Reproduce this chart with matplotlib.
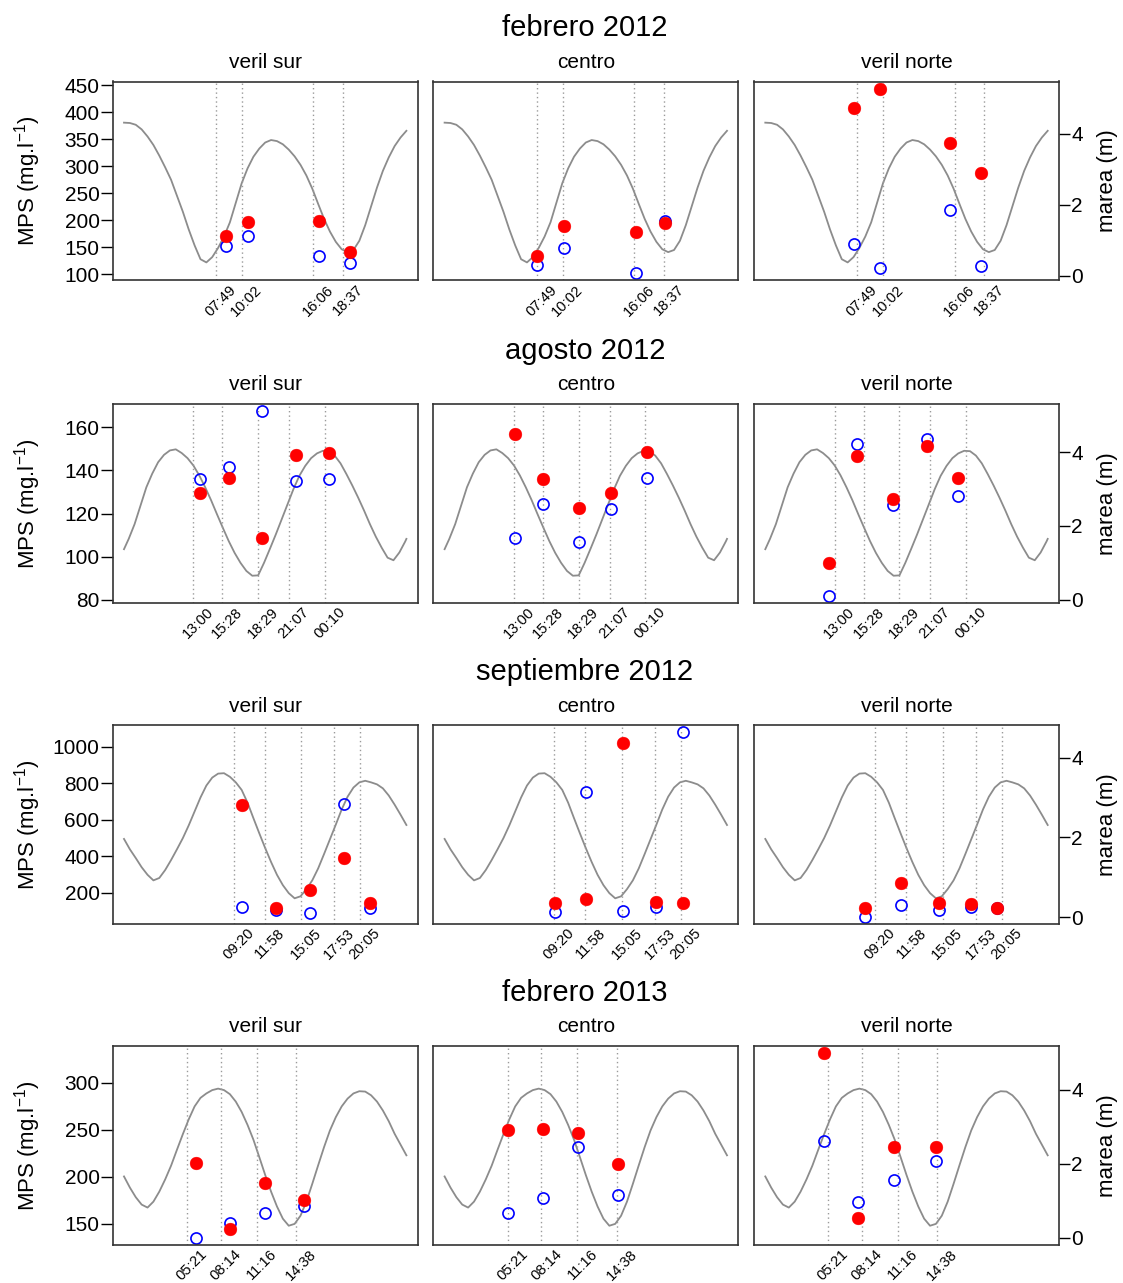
import matplotlib
matplotlib.use('Agg')
import matplotlib.pyplot as plt
from matplotlib import transforms

plt.rcParams['font.family'] = ['Liberation Sans', 'DejaVu Sans']
plt.rcParams['mathtext.default'] = 'regular'

stations = ["veril sur", "centro", "veril norte"]

# half-hourly tide readings (hours from midnight)
day_t = [0, 0.5, 1, 1.5, 2, 2.5, 3, 3.5, 4, 4.5, 5, 5.5, 6, 6.5, 7, 7.5, 8, 8.5, 9, 9.5, 10, 10.5, 11, 11.5,
         12, 12.5, 13, 13.5, 14, 14.5, 15, 15.5, 16, 16.5, 17, 17.5, 18, 18.5, 19, 19.5, 20, 20.5, 21, 21.5,
         22, 22.5, 23, 23.5, 24]

# ---- febrero 2012 ----
feb12_labels = ["07:49", "10:02", "16:06", "18:37"]
feb12_lines = [7.82, 10.03, 16.10, 18.62]
feb12_x = [[8.69, 10.53, 16.60, 19.22], [7.87, 10.14, 16.24, 18.77], [7.55, 9.74, 15.69, 18.34]]
feb12_red = [[171, 197, 198, 141], [133, 189, 179, 195], [408, 443, 343, 287]]
feb12_blue = [[152, 171, 133, 120], [117, 149, 102, 199], [155, 112, 219, 116]]
feb12_tide_t = day_t
feb12_tide_m = [4.31, 4.30, 4.25, 4.12, 3.92, 3.68, 3.38, 3.05, 2.70, 2.25, 1.80, 1.30, 0.85, 0.46, 0.37, 0.52,
                0.78, 1.10, 1.50, 2.05, 2.60, 3.02, 3.35, 3.58, 3.75, 3.82, 3.79, 3.70, 3.55, 3.36, 3.12, 2.82,
                2.45, 2.02, 1.60, 1.24, 0.95, 0.74, 0.66, 0.72, 0.98, 1.42, 1.95, 2.48, 2.95, 3.33, 3.65, 3.89,
                4.08]

# ---- agosto 2012 ----
ago12_labels = ["13:00", "15:28", "18:29", "21:07", "00:10"]
ago12_lines = [13.0, 15.47, 18.48, 21.12, 24.17]
ago12_x = [[13.54, 16.04, 18.83, 21.73, 24.49], [13.06, 15.47, 18.55, 21.23, 24.33], [12.51, 14.90, 17.92, 20.83, 23.47]]
ago12_red = [[129.4, 136.3, 108.9, 146.9, 148.1], [156.6, 136.0, 122.4, 129.5, 148.7], [97.3, 146.5, 126.9, 151.2, 136.5]]
ago12_blue = [[136.0, 141.7, 167.3, 135.2, 136.0], [108.9, 124.4, 106.9, 122.2, 136.5], [82.0, 152.4, 123.8, 154.3, 128.3]]
ago12_tide_t = [7.1, 7.5, 8, 8.5, 9, 9.5, 10, 10.5, 11, 11.5, 12, 12.5, 13, 13.5, 14, 14.5, 15, 15.5, 16, 16.5,
                17, 17.5, 18, 18.5, 19, 19.5, 20, 20.5, 21, 21.5, 22, 22.5, 23, 23.5, 24, 24.5, 25, 25.5, 26,
                26.5, 27, 27.5, 28, 28.5, 29, 29.5, 30, 30.5, 31, 31.1]
ago12_tide_m = [1.37, 1.65, 2.05, 2.55, 3.05, 3.42, 3.73, 3.93, 4.05, 4.08, 3.98, 3.84, 3.64, 3.37, 3.05, 2.70,
                2.32, 1.95, 1.59, 1.27, 1.00, 0.78, 0.65, 0.66, 1.00, 1.38, 1.77, 2.18, 2.59, 3.00, 3.36, 3.63,
                3.84, 3.97, 4.04, 4.03, 3.91, 3.70, 3.41, 3.10, 2.77, 2.42, 2.05, 1.71, 1.41, 1.14, 1.07, 1.28,
                1.58, 1.65]

# ---- septiembre 2012 ----
sep12_labels = ["09:20", "11:58", "15:05", "17:53", "20:05"]
sep12_lines = [9.33, 11.97, 15.08, 17.88, 20.08]
sep12_x = [[10.02, 12.93, 15.83, 18.73, 20.87], [9.35, 12.05, 15.15, 18.00, 20.22], [8.46, 11.57, 14.75, 17.49, 19.71]]
sep12_red = [[680, 114, 214, 392, 145], [145, 163, 1022, 151, 143], [118, 251, 141, 136, 118]]
sep12_blue = [[123, 103, 90, 684, 114], [94, 755, 98, 123, 1080], [68, 132, 105, 121, 116]]
sep12_tide_t = day_t
sep12_tide_m = [1.96, 1.70, 1.48, 1.25, 1.06, 0.92, 0.98, 1.18, 1.43, 1.70, 1.98, 2.30, 2.65, 3.00, 3.30, 3.50,
                3.60, 3.61, 3.52, 3.38, 3.19, 2.87, 2.48, 2.10, 1.73, 1.38, 1.06, 0.80, 0.60, 0.47, 0.52, 0.70,
                0.92, 1.22, 1.58, 1.95, 2.32, 2.70, 3.02, 3.25, 3.38, 3.42, 3.38, 3.33, 3.23, 3.05, 2.82, 2.57,
                2.31]

# ---- febrero 2013 ----
feb13_labels = ["05:21", "08:14", "11:16", "14:38"]
feb13_lines = [5.35, 8.23, 11.27, 14.63]
feb13_x = [[6.15, 9.00, 11.99, 15.26], [5.39, 8.35, 11.37, 14.75], [4.96, 7.86, 10.94, 14.50]]
feb13_red = [[214.6, 144.7, 193.4, 175.7], [249.9, 250.6, 246.4, 213.5], [331, 156, 231.2, 231.9]]
feb13_blue = [[135.2, 150.7, 161.3, 168.3], [161.6, 177.2, 231.2, 180.7], [238.2, 173, 196.9, 216.4]]
feb13_tide_t = day_t
feb13_tide_m = [1.66, 1.36, 1.10, 0.90, 0.82, 0.98, 1.25, 1.58, 1.95, 2.38, 2.80, 3.20, 3.55, 3.78, 3.90, 3.99,
                4.03, 3.99, 3.88, 3.68, 3.40, 3.05, 2.65, 2.18, 1.70, 1.25, 0.85, 0.52, 0.33, 0.38, 0.60, 0.98,
                1.46, 1.96, 2.45, 2.90, 3.26, 3.55, 3.76, 3.90, 3.96, 3.95, 3.85, 3.68, 3.44, 3.15, 2.81, 2.52,
                2.23]

rows = [
    dict(title="febrero 2012", labels=feb12_labels, lines=feb12_lines, x=feb12_x, red=feb12_red,
         blue=feb12_blue, tt=feb12_tide_t, tm=feb12_tide_m, yticks=range(100, 451, 50), mlim=(-0.14, 5.47)),
    dict(title="agosto 2012", labels=ago12_labels, lines=ago12_lines, x=ago12_x, red=ago12_red,
         blue=ago12_blue, tt=ago12_tide_t, tm=ago12_tide_m, yticks=range(80, 161, 20), mlim=(-0.09, 5.31)),
    dict(title="septiembre 2012", labels=sep12_labels, lines=sep12_lines, x=sep12_x, red=sep12_red,
         blue=sep12_blue, tt=sep12_tide_t, tm=sep12_tide_m, yticks=range(200, 1001, 200), mlim=(-0.175, 4.82)),
    dict(title="febrero 2013", labels=feb13_labels, lines=feb13_lines, x=feb13_x, red=feb13_red,
         blue=feb13_blue, tt=feb13_tide_t, tm=feb13_tide_m, yticks=range(150, 301, 50), mlim=(-0.19, 5.18)),
]

W, H = 1123, 1283
fig = plt.figure(figsize=(W / 100, H / 100), dpi=100)

col_left = [112.7, 433.3, 754.0]
row_top = [81.5, 404.0, 725.0, 1046.0]
aw, ah = 305, 199

for r, row in enumerate(rows):
    # R-style padded ranges (4% each side)
    t0, t1 = min(row["tt"]), max(row["tt"])
    tpad = 0.04 * (t1 - t0)
    allv = [v for s in row["red"] + row["blue"] for v in s]
    v0, v1 = min(allv), max(allv)
    vpad = 0.04 * (v1 - v0)

    top = row_top[r]
    fig.text(585 / W, 1 - (top - 53) / H, row["title"], ha="center", va="center", fontsize=21)

    for c in range(3):
        rect = [col_left[c] / W, 1 - (top + ah) / H, aw / W, ah / H]
        ax_t = fig.add_axes(rect)
        ax_m = fig.add_axes(rect, sharex=ax_t)
        ax_m.patch.set_visible(False)

        # tide line + sampling lines
        ax_t.plot(row["tt"], row["tm"], color="#8c8c8c", lw=1.3)
        for xl in row["lines"]:
            ax_t.axvline(xl, color="#9a9a9a", lw=1.0, linestyle=(0, (1, 2.2)))
        ax_t.set_xlim(t0 - tpad, t1 + tpad)
        ax_t.set_ylim(*row["mlim"])
        for sp in ax_t.spines.values():
            sp.set_visible(False)

        # MPS points
        ax_m.plot(row["x"][c], row["blue"][c], linestyle="none", marker="o", ms=8.0, mfc="none",
                  mec="#0000ff", mew=1.2)
        ax_m.plot(row["x"][c], row["red"][c], linestyle="none", marker="o", ms=9.2, mfc="#ff0000",
                  mec="#ff0000", mew=0.3)
        ax_m.set_ylim(v0 - vpad, v1 + vpad)
        for sp in ax_m.spines.values():
            sp.set_color("#333333")
            sp.set_linewidth(1.2)

        ax_t.set_xticks([])
        ax_m.set_xticks([])

        if c == 0:
            ax_m.set_yticks(list(row["yticks"]))
            ax_m.tick_params(axis="y", direction="out", length=8.5, width=1.0, labelsize=15, pad=1)
            fig.text(28 / W, 1 - (top + ah / 2) / H, "MPS (mg.l$^{-1}$)", rotation=90,
                     ha="center", va="center", fontsize=16)
        else:
            ax_m.set_yticks([])
        if c == 2:
            ax_t.yaxis.tick_right()
            ax_t.set_yticks([0, 2, 4])
            ax_t.tick_params(axis="y", direction="out", length=8, width=1.0, labelsize=15, pad=1)
            fig.text(1107 / W, 1 - (top + ah / 2) / H, "marea (m)", rotation=90,
                     ha="center", va="center", fontsize=16)
        else:
            ax_t.set_yticks([])

        # station title
        fig.text((col_left[c] + aw / 2) / W, 1 - (top - 19) / H, stations[c], ha="center", va="center",
                 fontsize=15)

        # rotated time labels under the box
        base = transforms.blended_transform_factory(ax_m.transData, ax_m.transAxes)
        lab_tr = transforms.offset_copy(base, fig=fig, x=13, y=-2, units="dots")
        for xl, lab in zip(row["lines"], row["labels"]):
            ax_m.text(xl, 0, lab, transform=lab_tr, rotation=45, rotation_mode="anchor",
                      ha="right", va="top", fontsize=10.6, clip_on=False)

fig.savefig("out.png", dpi=100)
